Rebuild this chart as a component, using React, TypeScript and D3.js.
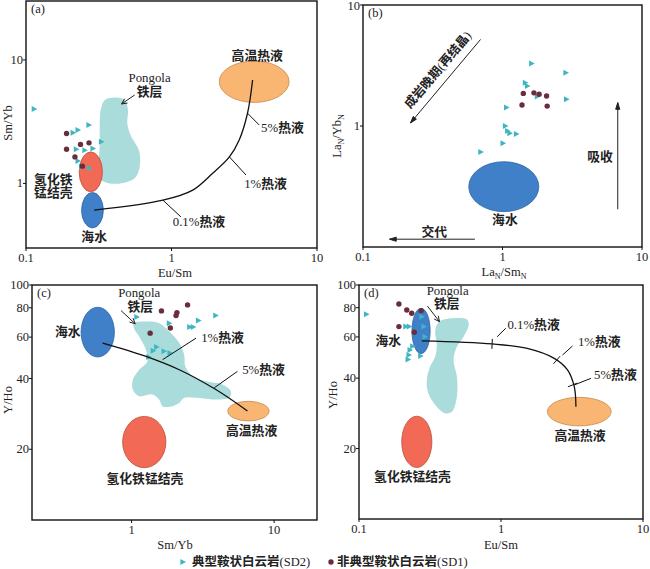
import React from 'react';
import * as d3 from 'd3';

type P = [number, number];
type Ell = { x: P; y: P };
type Lab = { t: string; x: number; y: number; a?: string };

const FONT = "'Liberation Serif', 'Noto Sans CJK SC', serif";
const C_SD2 = '#3cb7c2';
const C_SD1 = '#6a2d3d';
const C_SEA = '#3f80c9';
const C_CRUST = '#f26a55';
const C_HOT = '#f9b673';
const C_PON = '#a9dcda';

// (a) Sm/Yb vs Eu/Sm
const aSD2: P[] = [[0.114, 4.0], [0.211, 2.57], [0.228, 2.71], [0.271, 2.97], [0.222, 1.89], [0.254, 1.86], [0.289, 1.92], [0.33, 2.17], [0.228, 1.52], [0.241, 1.36], [0.274, 1.33]];
const aSD1: P[] = [[0.19, 2.54], [0.19, 1.89], [0.237, 2.07], [0.271, 2.13], [0.217, 1.64], [0.244, 1.38]];
const aPongola: P[] = [[0.396, 4.95], [0.476, 4.74], [0.502, 3.93], [0.497, 3.06], [0.529, 2.39], [0.597, 1.86], [0.604, 1.36], [0.558, 1.1], [0.464, 1.01], [0.376, 1.0], [0.33, 1.06], [0.305, 1.21], [0.313, 1.45], [0.321, 1.98], [0.321, 2.88], [0.326, 3.93], [0.348, 4.74]];
const aMix: P[] = [[0.294, 0.608], [0.873, 0.732], [1.4, 0.883], [1.92, 1.21], [2.5, 1.64], [2.92, 2.25], [3.33, 3.7], [3.61, 6.88]];
const aSea: Ell = { x: [0.241, 0.34], y: [0.436, 0.845] };
const aCrust: Ell = { x: [0.232, 0.335], y: [0.855, 1.8] };
const aHot: Ell = { x: [2.13, 6.43], y: [4.53, 9.8] };
const aLabels: Lab[] = [
  { t: '高温热液', x: 3.88, y: 10.8 }, { t: '5%热液', x: 4.13, y: 2.81, a: 'start' },
  { t: '1%热液', x: 3.16, y: 0.987, a: 'start' }, { t: '0.1%热液', x: 1.02, y: 0.485, a: 'start' },
  { t: 'Pongola', x: 0.707, y: 7.13 }, { t: '铁层', x: 0.707, y: 5.48 },
  { t: '氢化铁', x: 0.154, y: 1.06 }, { t: '锰结壳', x: 0.154, y: 0.834 }, { t: '海水', x: 0.294, y: 0.367 },
];
const aLeaders: P[][] = [[[3.33, 3.7], [4.01, 2.97]], [[2.5, 1.64], [3.25, 1.17]], [[0.873, 0.732], [1.16, 0.536]]];
const aArrows: P[][] = [[[0.558, 5.2], [0.454, 4.4]]];

// (b) La_N/Yb_N vs La_N/Sm_N
const bSD2: P[] = [[1.62, 3.29], [2.85, 2.75], [1.46, 2.28], [1.51, 2.14], [1.78, 1.75], [2.88, 1.66], [1.07, 1.42], [1.05, 1.0], [1.09, 0.91], [1.13, 0.87], [1.26, 0.86], [1.01, 0.72], [0.7, 0.61]];
const bSD1: P[] = [[1.41, 1.86], [1.68, 1.88], [1.83, 1.83], [2.07, 1.77], [1.38, 1.49], [2.09, 1.46]];
const bSea: Ell = { x: [0.573, 1.82], y: [0.196, 0.507] };
const bLabels: Lab[] = [{ t: '海水', x: 1.04, y: 0.168 }, { t: '交代', x: 0.324, y: 0.132 }, { t: '吸收', x: 5.0, y: 0.555 }];
const bArrows: P[][] = [[[0.696, 5.19], [0.219, 1.06]], [[0.634, 0.116], [0.155, 0.116]], [[6.7, 0.205], [6.7, 1.56]]];
const bDiag: Lab = { t: '成岩晚期(再结晶)', x: 0.345, y: 2.9 };

// (c) Y/Ho vs Sm/Yb
const cSD2: P[] = [[1.09, 73.0], [1.84, 68.8], [2.56, 66.2], [2.71, 66.2], [2.95, 70.6], [3.9, 74.1], [1.42, 52.5], [1.5, 54.5], [1.69, 52.2], [1.86, 51.4], [1.32, 49.4]];
const cSD1: P[] = [[1.62, 77.6], [2.08, 76.3], [2.05, 74.1], [2.47, 82.3], [1.87, 65.6], [1.35, 62.4]];
const cPongola: P[] = [[1.04, 68.8], [1.26, 69.9], [1.56, 68.8], [1.84, 63.4], [2.16, 56.6], [2.34, 50.5], [2.38, 45.1], [2.68, 40.9], [3.32, 38.9], [4.34, 37.7], [4.97, 35.3], [4.84, 33.1], [3.7, 32.6], [2.82, 33.1], [2.34, 33.1], [2.16, 31.5], [1.84, 30.3], [1.65, 30.5], [1.56, 32.6], [1.4, 34.2], [1.13, 33.6], [1.02, 35.9], [1.02, 39.5], [1.13, 43.6], [1.29, 47.3], [1.26, 53.0], [1.13, 60.4], [1.04, 65.5]];
const cMix: P[] = [[0.626, 56.6], [1.26, 49.7], [2.16, 43.6], [3.9, 35.9], [6.5, 29.1]];
const cSea: Ell = { x: [0.442, 0.757], y: [49.4, 80.4] };
const cCrust: Ell = { x: [0.865, 1.74], y: [16.7, 27.6] };
const cHot: Ell = { x: [4.73, 9.22], y: [26.4, 32.0] };
const cLabels: Lab[] = [
  { t: 'Pongola', x: 1.13, y: 92.2 }, { t: '铁层', x: 1.15, y: 80.9 }, { t: '海水', x: 0.357, y: 62.8 },
  { t: '1%热液', x: 3.08, y: 59.6, a: 'start' }, { t: '5%热液', x: 5.97, y: 43.4, a: 'start' },
  { t: '高温热液', x: 6.95, y: 23.9 }, { t: '氢化铁锰结壳', x: 1.24, y: 15.0 },
];
const cLeaders: P[][] = [[[1.65, 48.1], [2.83, 59.4]], [[3.8, 36.5], [5.53, 42.9]]];
const cArrows: P[][] = [[[0.843, 77.8], [1.06, 68.4]]];

// (d) Y/Ho vs Eu/Sm
const dSD2: P[] = [[0.113, 75.0], [0.214, 66.4], [0.226, 66.4], [0.287, 66.4], [0.229, 52.8], [0.225, 50.2], [0.222, 48.1], [0.239, 54.8], [0.272, 49.7], [0.277, 73.2], [0.292, 60.1]];
const dSD1: P[] = [[0.191, 82.9], [0.217, 78.2], [0.235, 75.7], [0.274, 77.7], [0.191, 66.4], [0.245, 62.8]];
const dPongola: P[] = [[0.383, 70.8], [0.576, 71.3], [0.592, 67.5], [0.545, 60.1], [0.489, 54.5], [0.463, 47.8], [0.489, 40.6], [0.489, 33.3], [0.451, 28.7], [0.404, 28.3], [0.353, 30.2], [0.308, 34.4], [0.3, 39.3], [0.317, 44.8], [0.344, 49.4], [0.353, 56.3], [0.344, 62.2], [0.353, 67.5]];
const dMix: P[] = [[0.277, 57.7], [0.866, 56.0], [1.53, 53.6], [2.37, 48.6], [2.94, 43.4], [3.28, 36.8], [3.37, 30.2]];
const dMarks: P[] = [[0.866, 56.0], [2.47, 47.8], [3.19, 37.4]];
const dSea: Ell = { x: [0.236, 0.317], y: [50.9, 79.5] };
const dCrust: Ell = { x: [0.2, 0.326], y: [16.6, 27.5] };
const dHot: Ell = { x: [2.12, 5.97], y: [25.0, 33.1] };
const dLabels: Lab[] = [
  { t: 'Pongola', x: 0.421, y: 94.5 }, { t: '铁层', x: 0.415, y: 82.7 }, { t: '海水', x: 0.161, y: 57.8 },
  { t: '0.1%热液', x: 1.11, y: 67.5, a: 'start' }, { t: '1%热液', x: 3.48, y: 57.3, a: 'start' },
  { t: '5%热液', x: 4.52, y: 41.2, a: 'start' }, { t: '高温热液', x: 3.6, y: 22.6 }, { t: '氢化铁锰结壳', x: 0.238, y: 15.1 },
];
const dLeaders: P[][] = [[[0.94, 60.1], [1.08, 65.3]], [[2.71, 50.2], [3.19, 54.9]], [[3.28, 37.4], [4.3, 39.9]]];
const dArrows: P[][] = [[[0.303, 81.3], [0.369, 69.7]]];

const ticksDecade = [0.1, 1, 10];
const ticksA = [1, 10];
const ticksB = [1, 10];
const ticksC = [1, 10];
const ticksYHo = [20, 40, 60, 80, 100];

type S = d3.ScaleLogarithmic<number, number>;

const tri = 'M-2.6,-3 L3,0 L-2.6,3 Z';

// bold for Chinese characters, regular serif for the rest
function Runs({ s }: { s: string }) {
  const parts = s.match(/[\u4e00-\u9fff]+|[^\u4e00-\u9fff]+/g) || [];
  return <>{parts.map((p, i) => (
    <tspan key={i} fontWeight={/[\u4e00-\u9fff]/.test(p) ? 'bold' : 'normal'}>{p}</tspan>
  ))}</>;
}

function Ellipse({ e, x, y, fill, stroke }: { e: Ell; x: S; y: S; fill: string; stroke: string }) {
  const cx = (x(e.x[0]) + x(e.x[1])) / 2;
  const cy = (y(e.y[0]) + y(e.y[1])) / 2;
  const rx = Math.abs(x(e.x[1]) - x(e.x[0])) / 2;
  const ry = Math.abs(y(e.y[1]) - y(e.y[0])) / 2;
  return <ellipse cx={cx} cy={cy} rx={rx} ry={ry} fill={fill} stroke={stroke} strokeWidth={0.8} />;
}

function Arrow({ p, x, y, open }: { p: P[]; x: S; y: S; open?: boolean }) {
  const x1 = x(p[0][0]), y1 = y(p[0][1]), x2 = x(p[1][0]), y2 = y(p[1][1]);
  const ang = Math.atan2(y2 - y1, x2 - x1);
  const L = open ? 6 : 7, w = open ? 0.45 : 0.3;
  const h1: P = [x2 - L * Math.cos(ang - w), y2 - L * Math.sin(ang - w)];
  const h2: P = [x2 - L * Math.cos(ang + w), y2 - L * Math.sin(ang + w)];
  return (
    <g stroke="#222" strokeWidth={1}>
      <line x1={x1} y1={y1} x2={x2} y2={y2} />
      {open
        ? <path d={`M${h1[0]},${h1[1]} L${x2},${y2} L${h2[0]},${h2[1]}`} fill="none" />
        : <path d={`M${h1[0]},${h1[1]} L${x2},${y2} L${h2[0]},${h2[1]} Z`} fill="#222" />}
    </g>
  );
}

function Frame({ x, y, xTicks, yTicks, tag }: { x: S; y: S; xTicks: number[]; yTicks: number[]; tag: string }) {
  const [x0, x1] = x.range();
  const [y0, y1] = y.range();
  return (
    <g fontFamily={FONT} fontSize={12.5} fill="#222">
      <rect x={x0} y={y1} width={x1 - x0} height={y0 - y1} fill="none" stroke="#111" strokeWidth={1.4} />
      {xTicks.map(t => (
        <g key={'x' + t}>
          <line x1={x(t)} x2={x(t)} y1={y0} y2={y0 + 3} stroke="#111" />
          <text x={x(t)} y={y0 + 14} textAnchor="middle">{String(t)}</text>
        </g>
      ))}
      {yTicks.map(t => (
        <g key={'y' + t}>
          <line x1={x0 - 3} x2={x0} y1={y(t)} y2={y(t)} stroke="#111" />
          <text x={x0 - 3} y={Math.max(y(t) + 4, 10)} textAnchor="end">{String(t)}</text>
        </g>
      ))}
      <text x={x0 + 5} y={y1 + 12} fontSize={12.5}>{tag}</text>
    </g>
  );
}

function Layer({ x, y, sd2, sd1, pongola, ells, mix, labels, leaders, arrows }: {
  x: S; y: S; sd2: P[]; sd1: P[]; pongola?: P[]; ells: [Ell, string, string][]; mix?: P[];
  labels: Lab[]; leaders?: P[][]; arrows?: P[][];
}) {
  const closed = d3.line<P>().x(d => x(d[0])).y(d => y(d[1])).curve(d3.curveCatmullRomClosed.alpha(0.5));
  const open = d3.line<P>().x(d => x(d[0])).y(d => y(d[1])).curve(d3.curveCatmullRom.alpha(0.5));
  return (
    <g>
      {pongola && <path d={closed(pongola) || ''} fill={C_PON} />}
      {ells.map(([e, f, s], i) => <Ellipse key={i} e={e} x={x} y={y} fill={f} stroke={s} />)}
      {sd2.map((d, i) => <path key={'t' + i} d={tri} transform={`translate(${x(d[0])},${y(d[1])})`} fill={C_SD2} />)}
      {sd1.map((d, i) => <circle key={'c' + i} cx={x(d[0])} cy={y(d[1])} r={2.7} fill={C_SD1} />)}
      {mix && <path d={open(mix) || ''} fill="none" stroke="#111" strokeWidth={1.3} />}
      {(leaders || []).map((l, i) => (
        <line key={'l' + i} x1={x(l[0][0])} y1={y(l[0][1])} x2={x(l[1][0])} y2={y(l[1][1])} stroke="#111" strokeWidth={1} />
      ))}
      {(arrows || []).map((a, i) => <Arrow key={'a' + i} p={a} x={x} y={y} open />)}
      {labels.map((l, i) => (
        <text key={'t' + i} x={x(l.x)} y={y(l.y)} textAnchor={l.a || 'middle'} dominantBaseline="central"
          fontFamily={FONT} fontSize={12.8} fill="#222"><Runs s={l.t} /></text>
      ))}
    </g>
  );
}

export default function App() {
  const xa = d3.scaleLog().domain([0.1, 10]).range([26, 317]);
  const ya = d3.scaleLog().domain([0.3, 30]).range([248, 1]);
  const xb = d3.scaleLog().domain([0.1, 10]).range([363, 642]);
  const yb = d3.scaleLog().domain([0.1, 10]).range([247, 5]);
  const xc = d3.scaleLog().domain([0.2, 20]).range([32, 317]);
  const yc = d3.scaleLog().domain([10, 100]).range([520, 285]);
  const xd = d3.scaleLog().domain([0.1, 10]).range([359, 643]);
  const yd = d3.scaleLog().domain([10, 100]).range([519, 285]);

  // tick marks across the mixing curve in (d)
  const markSegs = dMarks.map(m => {
    let i = dMix.findIndex((p, k) => k < dMix.length - 1 && m[0] >= p[0] && m[0] <= dMix[k + 1][0]);
    if (i < 0) i = 0;
    const ax = xd(dMix[i][0]), ay = yd(dMix[i][1]), bx = xd(dMix[i + 1][0]), by = yd(dMix[i + 1][1]);
    const len = Math.hypot(bx - ax, by - ay);
    const nx = -(by - ay) / len, ny = (bx - ax) / len;
    const cx = xd(m[0]), cy = yd(m[1]);
    return [cx - nx * 5, cy - ny * 5, cx + nx * 5, cy + ny * 5];
  });

  const dx1 = xb(bArrows[0][0][0]) - xb(bArrows[0][1][0]);
  const dy1 = yb(bArrows[0][0][1]) - yb(bArrows[0][1][1]);
  const diagAng = (Math.atan2(dy1, dx1) * 180) / Math.PI;

  const sub = (s: string) => <tspan fontSize={8} dy={3}>{s}</tspan>;

  return (
    <div>
      <style>{'body{margin:0;background:#fff}'}</style>
      <svg width={650} height={569} style={{ display: 'block' }}>
        <rect width={650} height={569} fill="#fff" />

        {/* (a) */}
        <Layer x={xa} y={ya} sd2={aSD2} sd1={aSD1} pongola={aPongola}
          ells={[[aSea, C_SEA, '#2d64a4'], [aCrust, C_CRUST, '#b9503e'], [aHot, C_HOT, '#c8884a']]}
          mix={aMix} labels={aLabels} leaders={aLeaders} arrows={aArrows} />
        <Frame x={xa} y={ya} xTicks={ticksDecade} yTicks={ticksA} tag="(a)" />

        {/* (b) */}
        <Layer x={xb} y={yb} sd2={bSD2} sd1={bSD1} ells={[[bSea, C_SEA, '#2d64a4']]} labels={bLabels} />
        {bArrows.map((a, i) => <Arrow key={i} p={a} x={xb} y={yb} />)}
        <text transform={`translate(${xb(bDiag.x)},${yb(bDiag.y)}) rotate(${diagAng})`} textAnchor="middle"
          dominantBaseline="central" fontFamily={FONT} fontSize={12.5} fill="#222"><Runs s={bDiag.t} /></text>
        <Frame x={xb} y={yb} xTicks={ticksDecade} yTicks={ticksB} tag="(b)" />

        {/* (c) */}
        <Layer x={xc} y={yc} sd2={cSD2} sd1={cSD1} pongola={cPongola}
          ells={[[cSea, C_SEA, '#2d64a4'], [cCrust, C_CRUST, '#b9503e'], [cHot, C_HOT, '#c8884a']]}
          mix={cMix} labels={cLabels} leaders={cLeaders} arrows={cArrows} />
        <Frame x={xc} y={yc} xTicks={ticksC} yTicks={ticksYHo} tag="(c)" />

        {/* (d) */}
        <Layer x={xd} y={yd} sd2={dSD2} sd1={dSD1} pongola={dPongola}
          ells={[[dSea, C_SEA, '#2d64a4'], [dCrust, C_CRUST, '#b9503e'], [dHot, C_HOT, '#c8884a']]}
          mix={dMix} labels={dLabels} leaders={dLeaders} arrows={dArrows} />
        {markSegs.map((s, i) => <line key={i} x1={s[0]} y1={s[1]} x2={s[2]} y2={s[3]} stroke="#111" strokeWidth={1} />)}
        <Frame x={xd} y={yd} xTicks={ticksDecade} yTicks={ticksYHo} tag="(d)" />

        {/* axis titles */}
        <g fontFamily={FONT} fontSize={12.5} fill="#222">
          <text x={175} y={277} textAnchor="middle">Eu/Sm</text>
          <text x={504} y={276} textAnchor="middle">La{sub('N')}<tspan dy={-3}>/Sm</tspan>{sub('N')}</text>
          <text x={175} y={549} textAnchor="middle">Sm/Yb</text>
          <text x={501} y={549} textAnchor="middle">Eu/Sm</text>
          <text transform="translate(12,123) rotate(-90)" textAnchor="middle">Sm/Yb</text>
          <text transform="translate(341,136) rotate(-90)" textAnchor="middle">La{sub('N')}<tspan dy={-3}>/Yb</tspan>{sub('N')}</text>
          <text transform="translate(12,400) rotate(-90)" textAnchor="middle">Y/Ho</text>
          <text transform="translate(337,395) rotate(-90)" textAnchor="middle">Y/Ho</text>
        </g>

        {/* legend */}
        <g fontFamily={FONT} fontSize={12.5} fill="#222">
          <path d={tri} transform="translate(183,562)" fill={C_SD2} />
          <text x={192} y={566}><Runs s="典型鞍状白云岩(SD2)" /></text>
          <circle cx={331} cy={562} r={2.7} fill={C_SD1} />
          <text x={337} y={566}><Runs s="非典型鞍状白云岩(SD1)" /></text>
        </g>
      </svg>
    </div>
  );
}
